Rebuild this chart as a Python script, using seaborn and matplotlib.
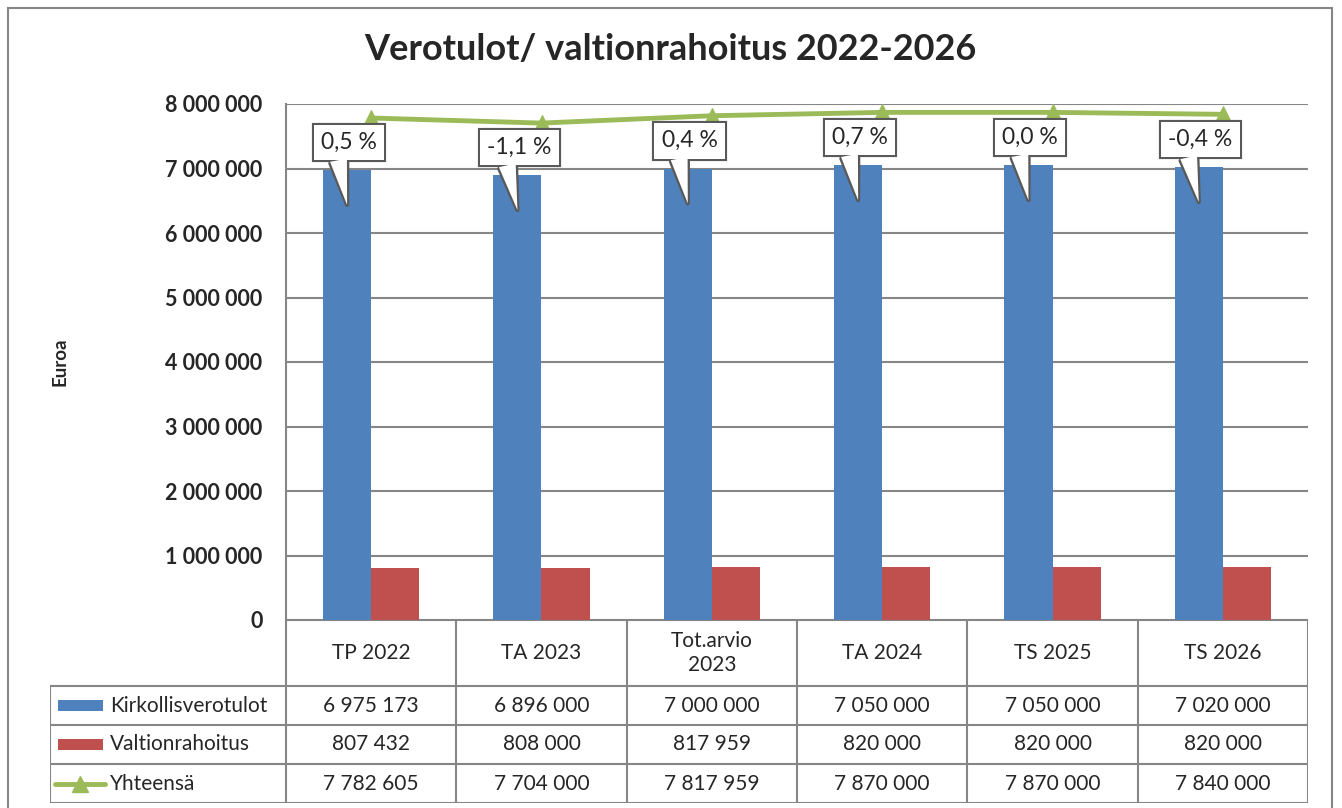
import numpy as np
import pandas as pd
import matplotlib
matplotlib.use('Agg')
import matplotlib.pyplot as plt
from matplotlib.patches import Rectangle
from matplotlib.lines import Line2D
import seaborn as sns

categories = ['TP 2022', 'TA 2023', 'Tot.arvio\n2023', 'TA 2024', 'TS 2025', 'TS 2026']
kirkollisverotulot = [6975173, 6896000, 7000000, 7050000, 7050000, 7020000]
valtionrahoitus = [807432, 808000, 817959, 820000, 820000, 820000]
yhteensa = [7782605, 7704000, 7817959, 7870000, 7870000, 7840000]
muutos = ['0,5 %', '-1,1 %', '0,4 %', '0,7 %', '0,0 %', '-0,4 %']
series_names = ['Kirkollisverotulot', 'Valtionrahoitus', 'Yhteensä']

BLUE = '#4F81BD'
RED = '#C0504D'
GREEN = '#9BBB59'
GRID = '#868686'

sns.set_style('white')
plt.rcParams['font.family'] = ['Lato', 'DejaVu Sans']

W, H = 1342, 808
fig = plt.figure(figsize=(W / 100, H / 100), dpi=100)

# pixel layout of the original chart
plot_l, plot_r, plot_t, plot_b = 286, 1308, 104, 620
tbl_l = 50
row_h = [66, 39, 39, 39]

ax = fig.add_axes([plot_l / W, 1 - plot_b / H, (plot_r - plot_l) / W, (plot_b - plot_t) / H])

df = pd.DataFrame({
    'kat': categories * 2,
    'sarja': [series_names[0]] * 6 + [series_names[1]] * 6,
    'arvo': kirkollisverotulot + valtionrahoitus,
})
sns.barplot(data=df, x='kat', y='arvo', hue='sarja', palette=[BLUE, RED],
            width=0.565, saturation=1, ax=ax, legend=False, zorder=3,
            linewidth=0, edgecolor='none')

x = np.arange(len(categories))
sns.lineplot(x=x, y=yhteensa, ax=ax, color=GREEN, lw=3.5, marker='^',
             markersize=11, markeredgecolor=GREEN, zorder=4)

ax.set_xlim(-0.5, len(categories) - 0.5)
ax.set_ylim(0, 8000000)
ax.set_yticks(np.arange(0, 8000001, 1000000))
ax.set_yticklabels([f'{int(v):,}'.replace(',', ' ') for v in ax.get_yticks()],
                   fontsize=15.5, fontweight='bold')
ax.tick_params(axis='y', length=0, pad=17)
ax.set_xticks([])
ax.set_xlabel('')
ax.set_ylabel('')
ax.yaxis.grid(True, color=GRID, lw=1.5, zorder=0)
ax.set_axisbelow(True)
for s in ['top', 'right', 'bottom']:
    ax.spines[s].set_visible(False)
ax.spines['left'].set_color(GRID)
ax.spines['left'].set_linewidth(1.5)

# callouts above the blue bars: outlined shape, then a white fill on top
# so the box and the pointer read as one shape
bar_off = 0.565 / 4
for i, (txt, v) in enumerate(zip(muutos, kirkollisverotulot)):
    bx = i - bar_off
    for ec, lw, z in [('#595959', 3.0, 6), ('none', 0, 7)]:
        ax.annotate(txt, xy=(bx, v - 540000), xytext=(bx + 0.01, v + 430000),
                    ha='center', va='center', fontsize=16.5, zorder=z,
                    bbox=dict(boxstyle='square,pad=0.32', fc='white', ec=ec, lw=lw),
                    arrowprops=dict(arrowstyle='wedge,tail_width=0.75', fc='white',
                                    ec=ec, lw=lw, relpos=(0.29, 0.0),
                                    shrinkA=0, shrinkB=0))

# data table under the plot
unit = (plot_r - plot_l) / len(categories)
tax = fig.add_axes([tbl_l / W, 1 - (plot_b + sum(row_h)) / H,
                    (plot_r - tbl_l) / W, sum(row_h) / H])
xl = -0.5 - (plot_l - tbl_l) / unit
xr = len(categories) - 0.5
tax.set_xlim(xl, xr)
tax.set_ylim(sum(row_h), 0)
tax.axis('off')
bounds = np.cumsum([0] + row_h)
tax.hlines(bounds[0], -0.5, xr, color=GRID, lw=1.5)
tax.hlines(bounds[1:], xl, xr, color=GRID, lw=1.5)
tax.vlines(np.arange(-0.5, xr + 0.01, 1), 0, bounds[-1], color=GRID, lw=1.5)
tax.vlines(xl, bounds[1], bounds[-1], color=GRID, lw=1.5)

for i, c in enumerate(categories):
    tax.text(i, (bounds[0] + bounds[1]) / 2, c, ha='center', va='center',
             fontsize=15, linespacing=1.2)

rows = [kirkollisverotulot, valtionrahoitus, yhteensa]
for r, vals in enumerate(rows):
    yc = (bounds[r + 1] + bounds[r + 2]) / 2
    for i, v in enumerate(vals):
        tax.text(i, yc, f'{v:,}'.replace(',', ' '), ha='center', va='center', fontsize=15)
    tax.text(xl + 60 / unit, yc, series_names[r], ha='left', va='center', fontsize=15)

# legend keys
k0, k1 = xl + 8 / unit, xl + 53 / unit
for r, col in enumerate([BLUE, RED]):
    yc = (bounds[r + 1] + bounds[r + 2]) / 2
    tax.add_patch(Rectangle((k0, yc - 5.5), k1 - k0, 11, fc=col, ec='none'))
yc = (bounds[3] + bounds[4]) / 2
tax.add_line(Line2D([xl + 5 / unit, xl + 55 / unit], [yc, yc], color=GREEN, lw=3.5))
tax.plot([xl + 30 / unit], [yc], marker='^', color=GREEN, markersize=11)

fig.text(670 / W, 1 - 50 / H, 'Verotulot/ valtionrahoitus 2022-2026',
         ha='center', va='center', fontsize=26, fontweight='bold')
fig.text(60 / W, 1 - 362 / H, 'Euroa', rotation=90, ha='center', va='center',
         fontsize=13.5, fontweight='bold')

fig.patches.append(Rectangle((8 / W, -0.01), (1332 - 8) / W, 1.01 - 8 / H,
                             transform=fig.transFigure, fill=False, ec=GRID, lw=1.5))

fig.savefig('out.png', dpi=100)
